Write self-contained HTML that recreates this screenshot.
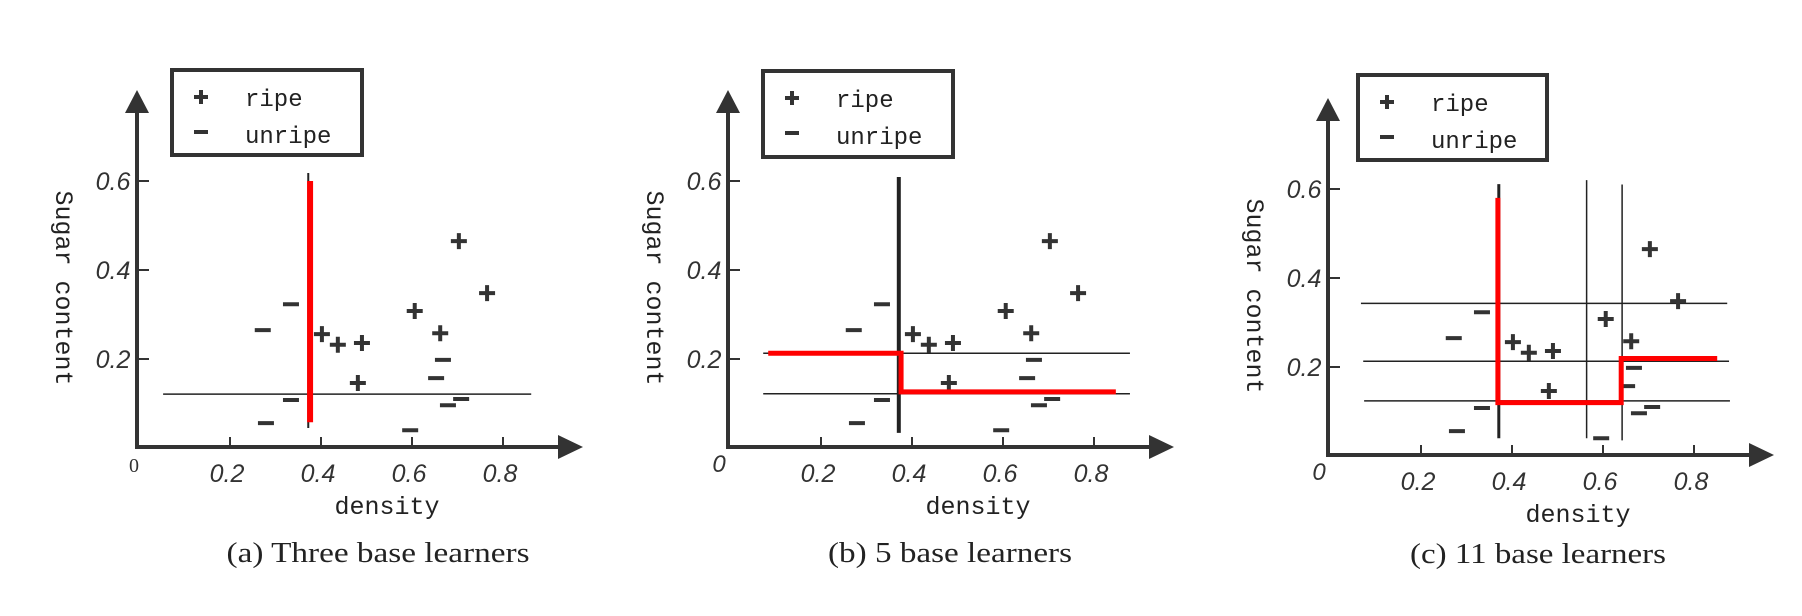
<!DOCTYPE html>
<html><head><meta charset="utf-8"><style>
html,body{margin:0;padding:0;background:#fff;}
svg{display:block;}
</style></head><body>
<svg id="fig" width="1802" height="616" viewBox="0 0 1802 616" xmlns="http://www.w3.org/2000/svg"></svg>
<script>
// data (density, sugar content)
const ripeX = [0.703,0.765,0.606,0.662,0.402,0.437,0.490,0.481];
const ripeY = [0.465,0.348,0.308,0.258,0.256,0.232,0.236,0.146];
const unripeX = [0.272,0.334,0.334,0.279,0.596,0.668,0.653,0.679,0.708];
const unripeY = [0.265,0.323,0.108,0.056,0.040,0.198,0.157,0.096,0.110];
const xTicks = [0.2,0.4,0.6,0.8];
const yTicks = [0.2,0.4,0.6];
const tickLabels = ["0.2","0.4","0.6","0.8"];
const yTickLabels = ["0.2","0.4","0.6"];
// panel a boundaries
const aHLines = [[0.121,0.053,0.862]];
const aVLines = [[0.372,0.045,0.618,2]];
const aRedX = [0.376,0.376];
const aRedY = [0.600,0.058];
// panel b boundaries
const bHLines = [[0.213,0.073,0.879],[0.122,0.073,0.879]];
const bVLines = [[0.371,0.034,0.609,4]];
const bRedX = [0.084,0.376,0.376,0.848];
const bRedY = [0.213,0.213,0.126,0.126];
// panel c boundaries
const cHLines = [[0.343,0.068,0.873],[0.213,0.073,0.877],[0.124,0.075,0.879]];
const cVLines = [[0.371,0.040,0.611,3],[0.564,0.040,0.620,1.5],[0.642,0.035,0.610,1.5]];
const cRedX = [0.369,0.369,0.640,0.640,0.851];
const cRedY = [0.580,0.120,0.120,0.219,0.219];
const captions = ["(a) Three base learners","(b) 5 base learners","(c) 11 base learners"];

const NS="http://www.w3.org/2000/svg";
const svg=document.getElementById('fig');
const sx=v=>139+v*455;
const sy=v=>448-v*445;
function mk(tag,attrs,parent){const e=document.createElementNS(NS,tag);for(const k in attrs)e.setAttribute(k,attrs[k]);parent.appendChild(e);return e;}
const C="#333";
const panels=[
 {tx:0,ty:0,h:aHLines,v:aVLines,rx:aRedX,ry:aRedY,leg:[172,70,190,85],cap:[378,562,303],zeroSerif:true},
 {tx:591,ty:0,h:bHLines,v:bVLines,rx:bRedX,ry:bRedY,leg:[172,71,190,86],cap:[359,562,244],zeroSerif:false},
 {tx:1191,ty:8,h:cHLines,v:cVLines,rx:cRedX,ry:cRedY,leg:[167,67,189,85],cap:[347,555,256],zeroSerif:false}
];
panels.forEach((p,i)=>{
 const g=mk('g',{transform:`translate(${p.tx},${p.ty})`},svg);
 
 
 const xa=mk('line',{x1:137,y1:447,x2:560,y2:447,stroke:C,'stroke-width':4},g);
 
 
 const xh=mk('polygon',{points:'558,435 583,447 558,459',fill:C},g);
 
 
 const ya=mk('line',{x1:137,y1:449,x2:137,y2:110,stroke:C,'stroke-width':4},g);
 
 
 const yh=mk('polygon',{points:'125,113 137,90 149,113',fill:C},g);
 
 
 xTicks.forEach((t,j)=>{
  const tk=mk('line',{x1:sx(t),y1:447,x2:sx(t),y2:437,stroke:C,'stroke-width':2},g);
  
  
  const tl=mk('text',{x:sx(t)-3,y:482,'font-family':'Liberation Sans, sans-serif','font-style':'italic','font-size':25,fill:C,'text-anchor':'middle'},g);
  tl.textContent=tickLabels[j];
  
  
 });
 yTicks.forEach((t,j)=>{
  const tk=mk('line',{x1:137,y1:sy(t),x2:149,y2:sy(t),stroke:C,'stroke-width':2},g);
  
  
  const tl=mk('text',{x:113,y:sy(t)+9,'font-family':'Liberation Sans, sans-serif','font-style':'italic','font-size':25,fill:C,'text-anchor':'middle'},g);
  tl.textContent=yTickLabels[j];
  
  
 });
 const z=mk('text',{x:p.zeroSerif?134:128,y:472,'font-family':p.zeroSerif?'Liberation Serif, serif':'Liberation Sans, sans-serif','font-style':p.zeroSerif?'normal':'italic','font-size':p.zeroSerif?20:24,fill:C,'text-anchor':'middle'},g);
 z.textContent='0';
 
 
 const xl=mk('text',{x:387,y:514,'font-family':'Liberation Mono, monospace','font-size':25,fill:'#222','text-anchor':'middle'},g);
 xl.textContent='density';
 
 
 const yl=mk('text',{x:0,y:0,transform:'translate(56,288) rotate(90)','font-family':'Liberation Mono, monospace','font-size':25,fill:'#222','text-anchor':'middle'},g);
 yl.textContent='Sugar content';
 
 
 p.h.forEach(h=>{
  const l=mk('line',{x1:sx(h[1]),y1:sy(h[0]),x2:sx(h[2]),y2:sy(h[0]),stroke:'#222','stroke-width':1.5},g);
  
  
 });
 p.v.forEach(v=>{
  const l=mk('line',{x1:sx(v[0]),y1:sy(v[1]),x2:sx(v[0]),y2:sy(v[2]),stroke:'#222','stroke-width':v[3]},g);
  
  
 });
 ripeX.forEach((x,j)=>{
  const cx=sx(x),cy=sy(ripeY[j]);
  const m=mk('path',{d:`M${cx-8},${cy}H${cx+8}M${cx},${cy-8}V${cy+8}`,stroke:C,'stroke-width':4},g);
  
  
 });
 unripeX.forEach((x,j)=>{
  const cx=sx(x),cy=sy(unripeY[j]);
  const m=mk('path',{d:`M${cx-8},${cy}H${cx+8}`,stroke:C,'stroke-width':4},g);
  
  
 });
 const pts=p.rx.map((x,j)=>sx(x)+','+sy(p.ry[j])).join(' ');
 const r=mk('polyline',{points:pts,fill:'none',stroke:'#f00','stroke-width':i==0?6:5},g);
 
 
 const [lx,ly,lw,lh]=p.leg;
 const lg=mk('g',{},g);
 
 
 mk('rect',{x:lx,y:ly,width:lw,height:lh,fill:'#fff',stroke:C,'stroke-width':4},lg);
 const lp=mk('path',{d:`M${lx+22},${ly+27}H${lx+36}M${lx+29},${ly+20}V${ly+34}`,stroke:C,'stroke-width':4},lg);
 
 
 const lm=mk('path',{d:`M${lx+22},${ly+62}H${lx+36}`,stroke:C,'stroke-width':4},lg);
 
 
 const t1=mk('text',{x:lx+73,y:ly+36,'font-family':'Liberation Mono, monospace','font-size':24,fill:'#222'},lg);
 t1.textContent='ripe';
 
 
 const t2=mk('text',{x:lx+73,y:ly+73,'font-family':'Liberation Mono, monospace','font-size':24,fill:'#222'},lg);
 t2.textContent='unripe';
 
 
 const cp=mk('text',{x:p.cap[0],y:p.cap[1],'font-family':'Liberation Serif, serif','font-size':29,fill:'#222','text-anchor':'middle',textLength:p.cap[2],lengthAdjust:'spacingAndGlyphs'},g);
 cp.textContent=captions[i];
 
 
});
</script>
</body></html>
